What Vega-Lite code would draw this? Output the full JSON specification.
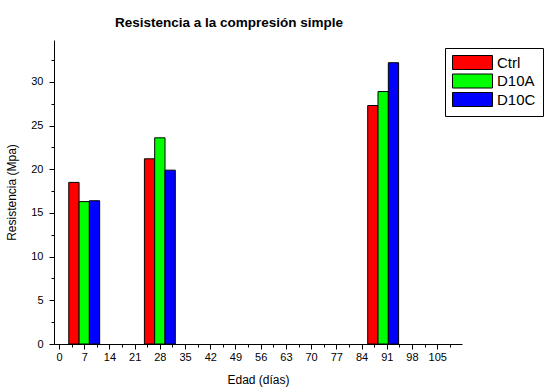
{
  "$schema": "https://vega.github.io/schema/vega-lite/v6.json",
  "width": 408,
  "height": 304,
  "autosize": {"type": "none"},
  "padding": {"left": 54, "top": 40, "right": 85, "bottom": 47},
  "background": "white",
  "title": {
    "text": "Resistencia a la compresión simple",
    "font": "Liberation Sans",
    "fontSize": 13.5,
    "fontWeight": "bold",
    "color": "#000000",
    "anchor": "middle",
    "dx": -29,
    "offset": 11
  },
  "data": {
    "values": [
      {"edad": 7, "serie": "Ctrl", "resistencia": 18.5},
      {"edad": 7, "serie": "D10A", "resistencia": 16.3},
      {"edad": 7, "serie": "D10C", "resistencia": 16.4},
      {"edad": 28, "serie": "Ctrl", "resistencia": 21.2},
      {"edad": 28, "serie": "D10A", "resistencia": 23.6},
      {"edad": 28, "serie": "D10C", "resistencia": 19.9},
      {"edad": 90, "serie": "Ctrl", "resistencia": 27.3},
      {"edad": 90, "serie": "D10A", "resistencia": 28.9},
      {"edad": 90, "serie": "D10C", "resistencia": 32.2}
    ]
  },
  "config": {
    "view": {"stroke": null},
    "font": "Liberation Sans",
    "axis": {
      "grid": false,
      "domainColor": "#000000",
      "tickColor": "#000000",
      "labelColor": "#000000",
      "titleColor": "#000000",
      "labelFont": "Liberation Sans",
      "titleFont": "Liberation Sans",
      "labelFontSize": 11,
      "titleFontSize": 12,
      "titleFontWeight": "normal"
    }
  },
  "encoding": {
    "x": {
      "field": "edad",
      "type": "quantitative",
      "scale": {"domain": [0, 110.5], "nice": false, "zero": false},
      "axis": {
        "title": "Edad (días)",
        "values": [0, 3.5, 7, 10.5, 14, 17.5, 21, 24.5, 28, 31.5, 35, 38.5, 42, 45.5, 49, 52.5, 56, 59.5, 63, 66.5, 70, 73.5, 77, 80.5, 84, 87.5, 91, 94.5, 98, 101.5, 105, 108.5],
        "labelExpr": "datum.value % 7 === 0 ? datum.label : ''",
        "tickSize": {"condition": {"test": "datum.value % 7 === 0", "value": 5}, "value": 3},
        "labelPadding": 2,
        "titlePadding": 12,
        "labelFlush": false
      }
    },
    "y": {
      "field": "resistencia",
      "type": "quantitative",
      "stack": null,
      "scale": {"domain": [0, 34.8], "nice": false},
      "axis": {
        "title": "Resistencia (Mpa)",
        "values": [0, 2.5, 5, 7.5, 10, 12.5, 15, 17.5, 20, 22.5, 25, 27.5, 30, 32.5],
        "labelExpr": "datum.value % 5 === 0 ? datum.label : ''",
        "tickSize": {"condition": {"test": "datum.value % 5 === 0", "value": 5}, "value": 3},
        "labelPadding": 6,
        "titlePadding": 12,
        "labelFlush": false
      }
    },
    "color": {
      "field": "serie",
      "type": "nominal",
      "scale": {"domain": ["Ctrl", "D10A", "D10C"], "range": ["#FF0000", "#00FF00", "#0000FF"]},
      "legend": {
        "title": null,
        "orient": "none",
        "legendX": 391,
        "legendY": 8,
        "strokeColor": "#000000",
        "padding": 7,
        "symbolType": "M-2.857,-1H2.857V1H-2.857Z",
        "symbolSize": 196,
        "symbolOffset": 13,
        "symbolStrokeColor": "#000000",
        "symbolStrokeWidth": 1,
        "symbolOpacity": 1,
        "labelFont": "Liberation Sans",
        "labelFontSize": 15,
        "labelColor": "#000000",
        "labelOffset": 17,
        "rowPadding": -0.5
      }
    }
  },
  "layer": [
    {
      "transform": [{"filter": "datum.serie === 'Ctrl'"}],
      "mark": {"type": "bar", "width": 10.3, "xOffset": -10.3, "stroke": "#000000", "strokeWidth": 1}
    },
    {
      "transform": [{"filter": "datum.serie === 'D10A'"}],
      "mark": {"type": "bar", "width": 10.3, "xOffset": 0, "stroke": "#000000", "strokeWidth": 1}
    },
    {
      "transform": [{"filter": "datum.serie === 'D10C'"}],
      "mark": {"type": "bar", "width": 10.3, "xOffset": 10.3, "stroke": "#000000", "strokeWidth": 1}
    }
  ]
}
